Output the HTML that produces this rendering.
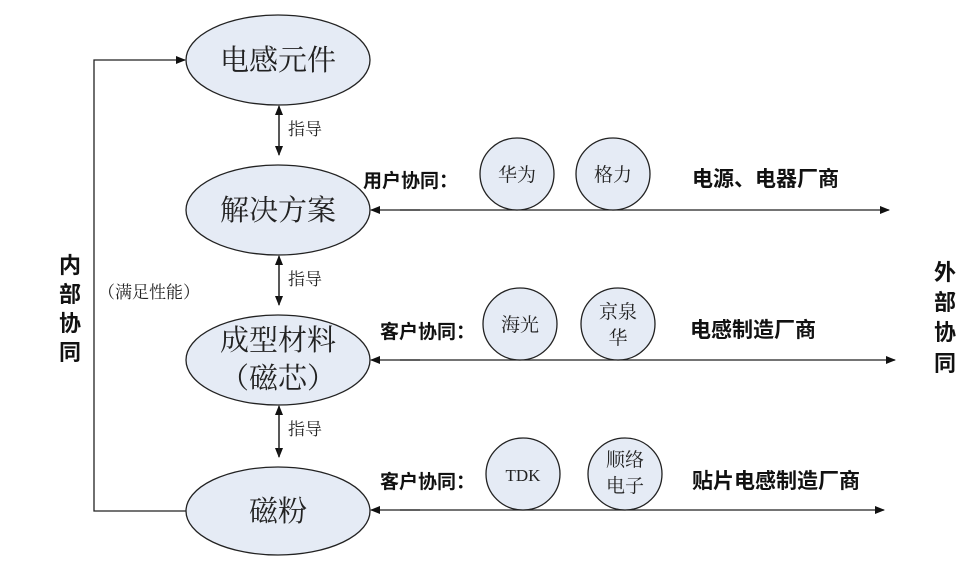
<!DOCTYPE html>
<html><head><meta charset="utf-8"><style>
body{margin:0;background:#fff}
svg{display:block}
.e{fill:#e5ebf5;stroke:#222;stroke-width:1.3}
.t{font-family:"Liberation Serif","Noto Serif CJK SC",serif;fill:#222}
.b{font-family:"Liberation Sans","Noto Sans CJK SC",sans-serif;font-weight:bold;fill:#111}
</style></head><body>
<svg width="979" height="564" viewBox="0 0 979 564" xmlns="http://www.w3.org/2000/svg">
<defs><marker id="a" markerWidth="10" markerHeight="10" refX="9" refY="5" orient="auto" markerUnits="userSpaceOnUse"><path d="M0,1 L10,5 L0,9 Z" fill="#111"/></marker></defs>
<g stroke="#222" stroke-width="1.3" fill="none">
<polyline points="186,511 94,511 94,60 185,60" marker-end="url(#a)"/>
<line x1="279" y1="115" x2="279" y2="155" marker-end="url(#a)"/>
<line x1="279" y1="155" x2="279" y2="106" marker-end="url(#a)"/>
<line x1="279" y1="265" x2="279" y2="305" marker-end="url(#a)"/>
<line x1="279" y1="305" x2="279" y2="256" marker-end="url(#a)"/>
<line x1="279" y1="415" x2="279" y2="457" marker-end="url(#a)"/>
<line x1="279" y1="457" x2="279" y2="406" marker-end="url(#a)"/>
<line x1="400" y1="210" x2="889" y2="210" marker-end="url(#a)"/>
<line x1="420" y1="210" x2="371" y2="210" marker-end="url(#a)"/>
<line x1="400" y1="360" x2="895" y2="360" marker-end="url(#a)"/>
<line x1="420" y1="360" x2="371" y2="360" marker-end="url(#a)"/>
<line x1="400" y1="510" x2="884" y2="510" marker-end="url(#a)"/>
<line x1="420" y1="510" x2="371" y2="510" marker-end="url(#a)"/>
</g>
<ellipse class="e" cx="278" cy="60" rx="92" ry="45"/>
<ellipse class="e" cx="278" cy="210" rx="92" ry="45"/>
<ellipse class="e" cx="278" cy="360" rx="92" ry="45"/>
<ellipse class="e" cx="278" cy="511" rx="92" ry="44"/>
<g class="t" font-size="29" text-anchor="middle">
<text x="278" y="70">电感元件</text>
<text x="278" y="220">解决方案</text>
<text x="278" y="350">成型材料</text>
<text x="278" y="388">（磁芯）</text>
<text x="278" y="521">磁粉</text>
</g>
<g class="e">
<ellipse cx="517" cy="174" rx="37" ry="36"/><ellipse cx="613" cy="174" rx="37" ry="36"/>
<ellipse cx="520" cy="324" rx="37" ry="36"/><ellipse cx="618" cy="324" rx="37" ry="36"/>
<ellipse cx="523" cy="474" rx="37" ry="36"/><ellipse cx="625" cy="474" rx="37" ry="36"/>
</g>
<g class="t" font-size="19" text-anchor="middle">
<text x="517" y="181">华为</text><text x="613" y="181">格力</text>
<text x="520" y="331">海光</text><text x="618" y="318">京泉</text><text x="618" y="344">华</text>
<text x="523" y="481" font-size="17">TDK</text><text x="625" y="466">顺络</text><text x="625" y="492">电子</text>
</g>
<g class="t" font-size="17" fill="#333">
<text x="288" y="135">指导</text><text x="288" y="285">指导</text><text x="288" y="435">指导</text>
<text x="98" y="298">（满足性能）</text>
</g>
<g class="b" font-size="19">
<text x="363" y="187">用户协同：</text>
<text x="380" y="338">客户协同：</text>
<text x="380" y="488">客户协同：</text>
</g>
<g class="b" font-size="21">
<text x="692" y="186">电源、电器厂商</text>
<text x="690" y="337">电感制造厂商</text>
<text x="692" y="488">贴片电感制造厂商</text>
</g>
<g class="b" font-size="22" text-anchor="middle">
<text x="70" y="273">内</text><text x="70" y="302">部</text><text x="70" y="331">协</text><text x="70" y="360">同</text>
<text x="945" y="280">外</text><text x="945" y="310">部</text><text x="945" y="340">协</text><text x="945" y="371">同</text>
</g>
</svg>
</body></html>
